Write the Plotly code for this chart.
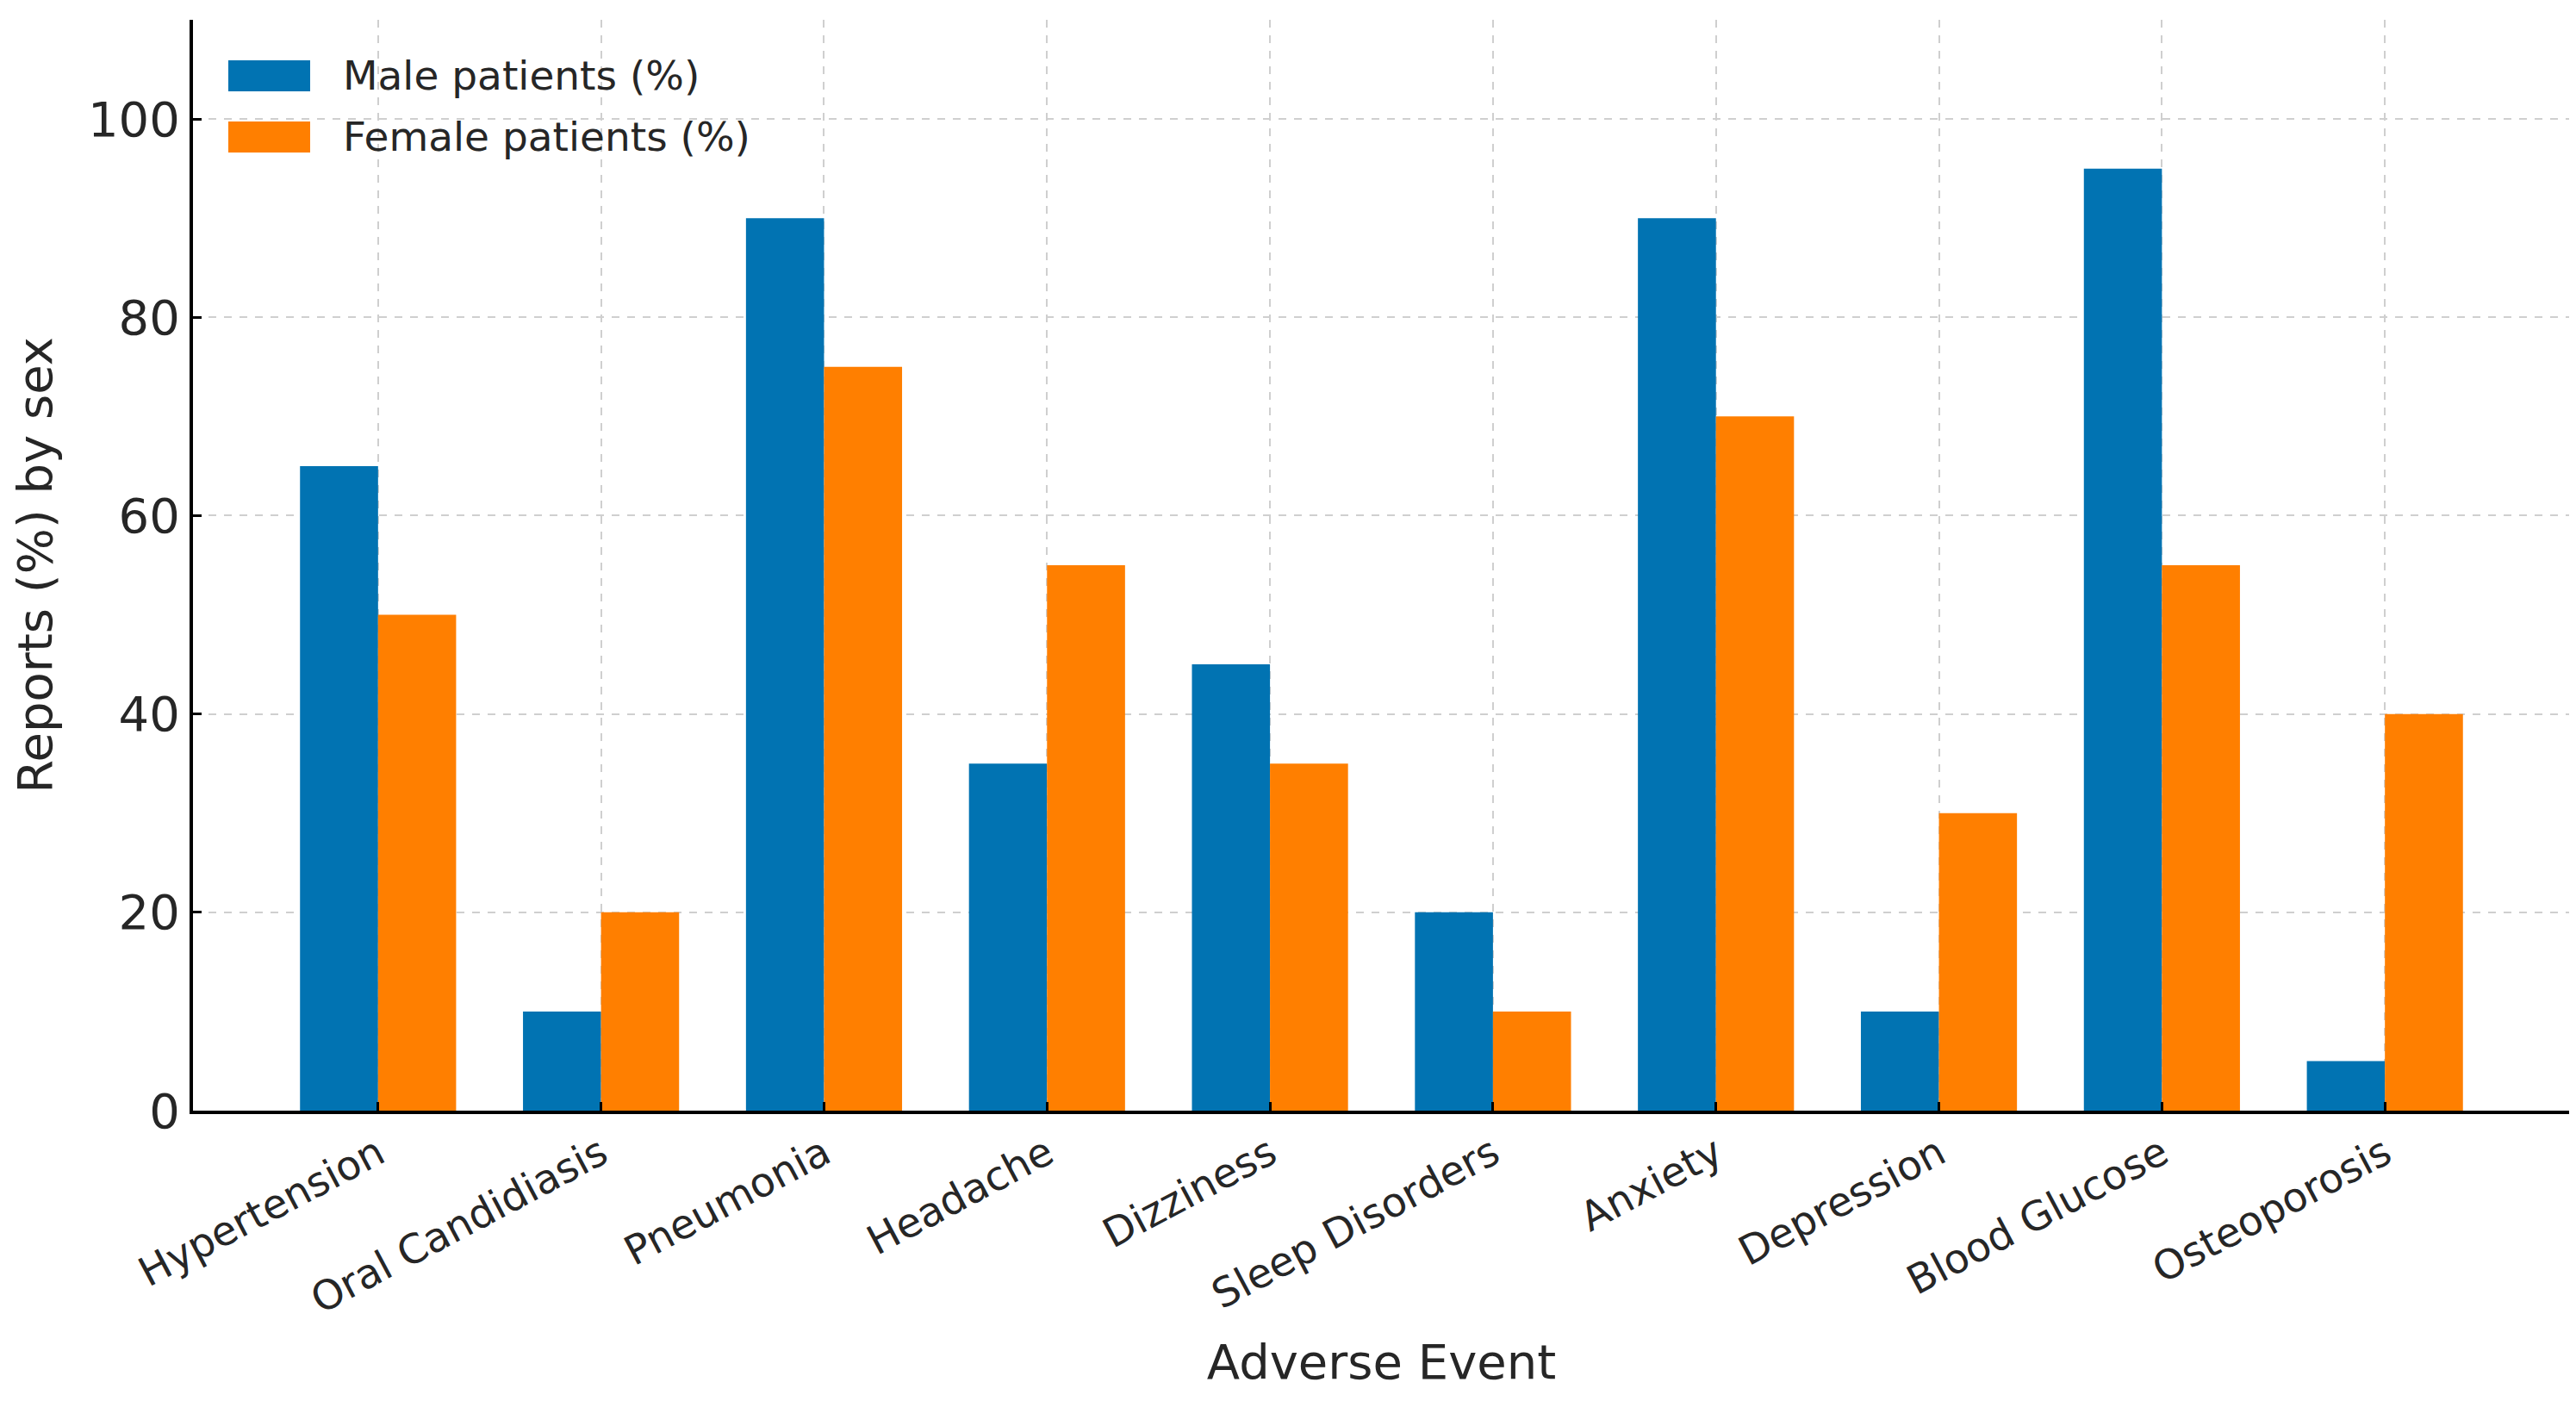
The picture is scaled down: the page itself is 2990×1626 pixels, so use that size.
import plotly.graph_objects as go

# --- Data ---
events = ['Hypertension', 'Oral Candidiasis', 'Pneumonia', 'Headache', 'Dizziness',
          'Sleep Disorders', 'Anxiety', 'Depression', 'Blood Glucose', 'Osteoporosis']
male_pct = [65, 10, 90, 35, 45, 20, 90, 10, 95, 5]
female_pct = [50, 20, 75, 55, 35, 10, 70, 30, 55, 40]
series_names = ['Male patients (%)', 'Female patients (%)']
y_ticks = [0, 20, 40, 60, 80, 100]

BLUE = '#0173B2'
ORANGE = '#FF7F00'
FONT = 'DejaVu Sans'
TEXT = '#262626'

W, H = 2990, 1626
M_L, M_R, M_T, M_B = 216, 15, 15, 345
PLOT_W = W - M_L - M_R
PLOT_H = H - M_T - M_B


def px_x(px):
    return (px - M_L) / PLOT_W


def px_y(px):
    return (H - M_B - px) / PLOT_H


fig = go.Figure()
fig.add_trace(go.Bar(x=events, y=male_pct, name=series_names[0],
                     marker=dict(color=BLUE, line=dict(width=0))))
fig.add_trace(go.Bar(x=events, y=female_pct, name=series_names[1],
                     marker=dict(color=ORANGE, line=dict(width=0))))

# legend drawn by hand so the swatches can be wide rectangles like matplotlib's
shapes = []
annotations = []
for i, (name, col) in enumerate(zip(series_names, [BLUE, ORANGE])):
    top = 62 + i * 71
    shapes.append(dict(type='rect', xref='paper', yref='paper',
                       x0=px_x(257), x1=px_x(352), y0=px_y(top + 36), y1=px_y(top),
                       fillcolor=col, line=dict(width=0)))
    annotations.append(dict(xref='paper', yref='paper', x=px_x(388), y=px_y(top + 18),
                            xanchor='left', yanchor='middle', showarrow=False,
                            text=name, font=dict(size=47, color=TEXT)))

fig.update_layout(
    width=W, height=H,
    margin=dict(l=M_L, r=M_R, t=M_T, b=M_B),
    paper_bgcolor='white', plot_bgcolor='white',
    barmode='group', bargap=0.3, bargroupgap=0,
    font=dict(family=FONT, size=46, color=TEXT),
    showlegend=False,
    shapes=shapes,
    annotations=annotations,
)

fig.update_xaxes(
    range=[-0.83, 9.83],
    tickangle=-28,
    tickfont=dict(size=47),
    showline=True, linecolor='black', linewidth=4,
    ticks='inside', ticklen=10, tickwidth=3, tickcolor='black',
    showgrid=True, gridcolor='#cfcfcf', griddash='dash', gridwidth=2,
    title=dict(text='Adverse Event', font=dict(size=56), standoff=28),
)
fig.update_yaxes(
    range=[0, 110],
    tickvals=y_ticks,
    tickfont=dict(size=56),
    showline=True, linecolor='black', linewidth=4,
    ticks='inside', ticklen=10, tickwidth=3, tickcolor='black',
    showgrid=True, gridcolor='#cfcfcf', griddash='dash', gridwidth=2,
    zeroline=False,
    title=dict(text='Reports (%) by sex', font=dict(size=56), standoff=28),
)

fig.write_html("out.html")
